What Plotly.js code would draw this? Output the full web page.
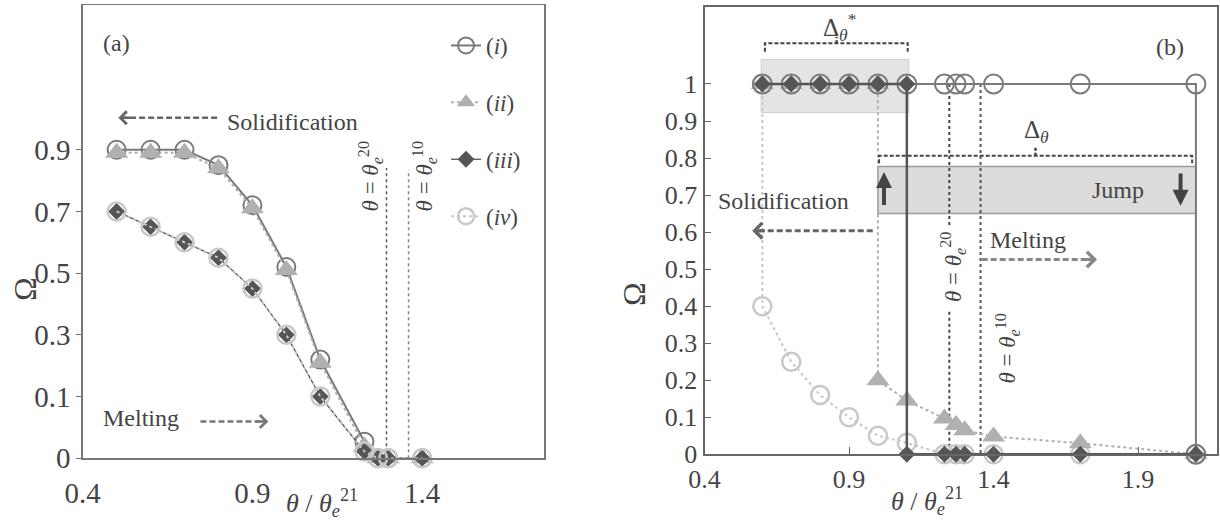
<!DOCTYPE html>
<html><head><meta charset="utf-8">
<script src="https://cdn.plot.ly/plotly-3.0.1.min.js"></script>
<style>html,body{margin:0;padding:0;background:#fff}</style>
</head><body><div id="chart" style="width:1220px;height:523px"></div>
<script>
const FONT = '"Liberation Serif", "Times New Roman", serif';
const TXT = '#444';

// ---------------- Panel (a) data ----------------
const xA = [0.5, 0.6, 0.7, 0.8, 0.9, 1.0, 1.1, 1.23, 1.27, 1.3, 1.4];
const aI   = [0.9, 0.9, 0.9, 0.85, 0.72, 0.52, 0.22, 0.027, 0, 0, 0];
const aII  = [0.89, 0.89, 0.89, 0.84, 0.71, 0.51, 0.21, 0.019, 0, 0, 0];
const aIII = [0.7, 0.65, 0.6, 0.55, 0.45, 0.3, 0.1, 0.011, 0, 0, 0];
const aIV  = [0.7, 0.65, 0.6, 0.55, 0.45, 0.3, 0.1, 0.011, 0, 0, 0];
const aTickVals = [0, 0.1, 0.3, 0.5, 0.7, 0.9];
const aTickText = ['0', '0.1', '0.3', '0.5', '0.7', '0.9'];
const aXTicks = [0.4, 0.9, 1.4];
// the (a) y axis is drawn with evenly spaced labels 0, 0.1, 0.3, ... : map values to that scale
function posA(v) { return v <= 0.1 ? 2 * v : v + 0.1; }

// ---------------- Panel (b) data ----------------
const bIx   = [0.6, 0.7, 0.8, 0.9, 1.0, 1.1, 1.23, 1.27, 1.3, 1.4, 1.7, 2.1, 2.1];
const bIy   = [1, 1, 1, 1, 1, 1, 1, 1, 1, 1, 1, 1, 0];
const bIIx  = [0.6, 0.7, 0.8, 0.9, 1.0, 1.0, 1.1, 1.23, 1.27, 1.3, 1.4, 1.7, 2.1];
const bIIy  = [1, 1, 1, 1, 1, 0.2, 0.145, 0.097, 0.079, 0.065, 0.048, 0.03, 0];
const bIIIx = [0.6, 0.7, 0.8, 0.9, 1.0, 1.1, 1.1, 1.23, 1.27, 1.3, 1.4, 1.7, 2.1];
const bIIIy = [1, 1, 1, 1, 1, 1, 0, 0, 0, 0, 0, 0, 0];
const bIVx  = [0.6, 0.6, 0.7, 0.8, 0.9, 1.0, 1.1, 1.23, 1.27, 1.3, 1.4, 1.7, 2.1];
const bIVy  = [1, 0.4, 0.25, 0.16, 0.1, 0.05, 0.031, 0, 0, 0, 0, 0, 0];
const bXTicks = [0.4, 0.9, 1.4, 1.9];
const bYTicks = [0, 0.1, 0.2, 0.3, 0.4, 0.5, 0.6, 0.7, 0.8, 0.9, 1];
const bYText = ['0', '0.1', '0.2', '0.3', '0.4', '0.5', '0.6', '0.7', '0.8', '0.9', '1'];

const names = ['(<i>i</i>)', '(<i>ii</i>)', '(<i>iii</i>)', '(<i>iv</i>)'];
const ST = {
  i:   {color: '#7a7a7a', symbol: 'circle-open', size: 18, mlw: 2,   dash: 'solid', lw: 2},
  ii:  {color: '#b0b0b0', symbol: 'triangle-up', size: 20, mlw: 0,   dash: 'dot',   lw: 2},
  iii: {color: '#555555', symbol: 'diamond',     size: 13, mlw: 0,   dash: 'solid', lw: 1.3},
  iv:  {color: '#c8c8c8', symbol: 'circle-open', size: 18, mlw: 2.5, dash: 'dot',   lw: 2}
};
function tr(x, y, s, xa, ya, name, rank, show) {
  return {
    type: 'scatter', mode: 'lines+markers', x: x, y: y, xaxis: xa, yaxis: ya,
    name: name, legendrank: rank, showlegend: show, legendgroup: 'g' + rank,
    cliponaxis: false, hoverinfo: 'skip',
    line: {color: s.color, dash: s.dash, width: s.lw},
    marker: {symbol: s.symbol, size: s.size, color: s.color, line: {color: s.color, width: s.mlw}}
  };
}
const traces = [
  tr(xA, aI.map(posA), ST.i, 'x', 'y', names[0], 1, true),
  tr(xA, aII.map(posA), ST.ii, 'x', 'y', names[1], 2, true),
  tr(xA, aIII.map(posA), ST.iii, 'x', 'y', names[2], 3, true),
  tr(xA, aIV.map(posA), ST.iv, 'x', 'y', names[3], 4, true),
  tr(bIVx, bIVy, ST.iv, 'x2', 'y2', names[3], 4, false),
  tr(bIIx, bIIy, ST.ii, 'x2', 'y2', names[1], 2, false),
  tr(bIx, bIy, Object.assign({}, ST.i, {size: 19}), 'x2', 'y2', names[0], 1, false),
  tr(bIIIx, bIIIy, Object.assign({}, ST.iii, {lw: 2.5}), 'x2', 'y2', names[2], 3, false)
];

const axBase = {
  showline: true, mirror: true, showgrid: false, zeroline: false, fixedrange: true
};

function ann(o) {
  return Object.assign({showarrow: false, xanchor: 'center', yanchor: 'middle',
                        font: {family: FONT, size: 24, color: TXT}}, o);
}
function head(x, y, xr, yr, ax, ay, col, w) {
  return {x: x, y: y, xref: xr, yref: yr, text: '', showarrow: true, ax: ax, ay: ay,
          arrowhead: 4, arrowsize: 1, arrowwidth: w, arrowcolor: col, standoff: 0};
}
const thetaLbl = n => '<i>θ</i> = <i>θ</i><sub><i>e</i></sub><sup>' + n + '</sup>';
const F22 = {family: FONT, size: 23, color: TXT};

const annotations = [
  // ----- panel (a)
  ann({text: '(a)', x: 0.501, y: 1.346, xref: 'x', yref: 'y'}),
  ann({text: 'Solidification', x: 1.017, y: 1.09, xref: 'x', yref: 'y'}),
  ann({text: 'Melting', x: 0.572, y: 0.131, xref: 'x', yref: 'y'}),
  ann({text: thetaLbl(20), x: 1.248, y: 0.912, xref: 'x', yref: 'y', textangle: -90, font: F22}),
  ann({text: thetaLbl(10), x: 1.407, y: 0.912, xref: 'x', yref: 'y', textangle: -90, font: F22}),
  head(0.505, 1.104, 'x', 'y', 14, 0, '#666', 2.5),
  head(0.947, 0.119, 'x', 'y', -14, 0, '#777', 2.5),
  ann({text: 'Ω', x: 25 / 1220, y: 1 - 289 / 523, xref: 'paper', yref: 'paper', textangle: -90, font: {family: FONT, size: 32, color: TXT}}),
  ann({text: '<i>θ</i> / <i>θ</i><sub><i>e</i></sub><sup>21</sup>', x: 322 / 1220, y: 1 - 503 / 523, xref: 'paper', yref: 'paper', font: {family: FONT, size: 26, color: TXT}}),
  // ----- panel (b)
  ann({text: '(b)', x: 2.01, y: 1.10, xref: 'x2', yref: 'y2'}),
  ann({text: 'Δ<sub><i>θ</i></sub><sup>*</sup>', x: 0.866, y: 1.155, xref: 'x2', yref: 'y2', font: {family: FONT, size: 25, color: TXT}}),
  ann({text: 'Δ<sub><i>θ</i></sub>', x: 1.547, y: 0.872, xref: 'x2', yref: 'y2', font: {family: FONT, size: 25, color: TXT}}),
  ann({text: 'Jump', x: 1.83, y: 0.714, xref: 'x2', yref: 'y2'}),
  ann({text: 'Solidification', x: 0.674, y: 0.683, xref: 'x2', yref: 'y2'}),
  ann({text: 'Melting', x: 1.518, y: 0.578, xref: 'x2', yref: 'y2'}),
  ann({text: thetaLbl(20), x: 1.26, y: 0.506, xref: 'x2', yref: 'y2', textangle: -90, font: F22}),
  ann({text: thetaLbl(10), x: 1.447, y: 0.286, xref: 'x2', yref: 'y2', textangle: -90, font: F22}),
  head(0.565, 0.604, 'x2', 'y2', 14, 0, '#666', 3),
  head(1.758, 0.526, 'x2', 'y2', -14, 0, '#888', 3),
  {x: 1.021, y: 0.762, xref: 'x2', yref: 'y2', text: '', showarrow: true, axref: 'x2', ayref: 'y2', ax: 1.021, ay: 0.669,
   arrowhead: 2, arrowsize: 0.8, arrowwidth: 4, arrowcolor: '#444', standoff: 0},
  {x: 2.047, y: 0.671, xref: 'x2', yref: 'y2', text: '', showarrow: true, axref: 'x2', ayref: 'y2', ax: 2.047, ay: 0.762,
   arrowhead: 2, arrowsize: 0.8, arrowwidth: 4, arrowcolor: '#444', standoff: 0},
  ann({text: 'Ω', x: 634 / 1220, y: 1 - 294 / 523, xref: 'paper', yref: 'paper', textangle: -90, font: {family: FONT, size: 32, color: TXT}}),
  ann({text: '<i>θ</i> / <i>θ</i><sub><i>e</i></sub><sup>21</sup>', x: 927 / 1220, y: 1 - 501 / 523, xref: 'paper', yref: 'paper', font: {family: FONT, size: 26, color: TXT}})
];

const DASH = '6px,3px';
const shapes = [
  // ----- panel (a)
  {type: 'line', xref: 'x', yref: 'y', x0: 0.796, x1: 0.515, y0: 1.104, y1: 1.104, line: {color: '#666', width: 2.5, dash: DASH}},
  {type: 'line', xref: 'x', yref: 'y', x0: 0.747, x1: 0.935, y0: 0.119, y1: 0.119, line: {color: '#777', width: 2.5, dash: DASH}},
  {type: 'line', xref: 'x', yref: 'y', x0: 1.295, x1: 1.295, y0: 0, y1: 0.941, layer: 'below', line: {color: '#555', width: 1.5, dash: 'dot'}},
  {type: 'line', xref: 'x', yref: 'y', x0: 1.36, x1: 1.36, y0: 0, y1: 0.935, layer: 'below', line: {color: '#888', width: 1.5, dash: 'dot'}},
  // ----- panel (b)
  {type: 'rect', xref: 'x2', yref: 'y2', x0: 0.596, x1: 1.107, y0: 0.923, y1: 1.066, layer: 'below', fillcolor: '#e4e4e4', line: {color: '#d0d0d0', width: 1}},
  {type: 'rect', xref: 'x2', yref: 'y2', x0: 1.0, x1: 2.1, y0: 0.65, y1: 0.777, layer: 'below', fillcolor: '#dcdcdc', line: {color: '#9a9a9a', width: 1.5}},
  {type: 'path', xref: 'x2', yref: 'y2', path: 'M0.609,1.087 L0.609,1.11 L1.103,1.11 L1.103,1.087', line: {color: '#444', width: 2, dash: '4px,2px'}},
  {type: 'line', xref: 'x2', yref: 'y2', x0: 0.857, x1: 0.857, y0: 1.11, y1: 1.127, line: {color: '#444', width: 2.5, dash: '3px,2px'}},
  {type: 'path', xref: 'x2', yref: 'y2', path: 'M1.004,0.786 L1.004,0.806 L2.087,0.806 L2.087,0.786', line: {color: '#444', width: 2, dash: '4px,2px'}},
  {type: 'line', xref: 'x2', yref: 'y2', x0: 1.545, x1: 1.545, y0: 0.806, y1: 0.828, line: {color: '#444', width: 2.5, dash: '3px,2px'}},
  {type: 'line', xref: 'x2', yref: 'y2', x0: 1.247, x1: 1.247, y0: 1, y1: 0.615, layer: 'below', line: {color: '#444', width: 2, dash: 'dot'}},
  {type: 'line', xref: 'x2', yref: 'y2', x0: 1.247, x1: 1.247, y0: 0.385, y1: 0, layer: 'below', line: {color: '#444', width: 2, dash: 'dot'}},
  {type: 'line', xref: 'x2', yref: 'y2', x0: 1.355, x1: 1.355, y0: 1, y1: 0, layer: 'below', line: {color: '#555', width: 2, dash: 'dot'}},
  {type: 'line', xref: 'x2', yref: 'y2', x0: 0.982, x1: 0.58, y0: 0.604, y1: 0.604, line: {color: '#666', width: 3, dash: DASH}},
  {type: 'line', xref: 'x2', yref: 'y2', x0: 1.359, x1: 1.745, y0: 0.526, y1: 0.526, line: {color: '#888', width: 3, dash: DASH}}
];

const layout = {
  width: 1220, height: 523,
  margin: {l: 0, r: 0, t: 0, b: 0},
  paper_bgcolor: '#fff', plot_bgcolor: '#fff',
  font: {family: FONT, color: TXT},
  xaxis: Object.assign({}, axBase, {
    domain: [82.7 / 1220, 544 / 1220], range: [0.4, 1.759], anchor: 'y',
    tickvals: aXTicks, ticktext: aXTicks.map(v => v.toFixed(1)), ticks: '',
    ticklabelstandoff: 8, linecolor: '#777', linewidth: 1.5,
    tickfont: {family: FONT, size: 29, color: TXT}
  }),
  yaxis: Object.assign({}, axBase, {
    domain: [(523 - 458.3) / 523, (523 - 5) / 523], range: [0, 1.469], anchor: 'x',
    tickvals: aTickVals.map(posA), ticktext: aTickText, ticks: 'outside', ticklen: 5,
    tickcolor: '#777', linecolor: '#777', linewidth: 1.5,
    tickfont: {family: FONT, size: 29, color: TXT}
  }),
  xaxis2: Object.assign({}, axBase, {
    domain: [704.5 / 1220, 1217 / 1220], range: [0.4, 2.173], anchor: 'y2',
    tickvals: bXTicks, ticktext: bXTicks.map(v => v.toFixed(1)), ticks: 'inside', ticklen: 7,
    tickcolor: '#666', linecolor: '#666', linewidth: 2,
    tickfont: {family: FONT, size: 26, color: TXT}
  }),
  yaxis2: Object.assign({}, axBase, {
    domain: [(523 - 454.3) / 523, (523 - 6.7) / 523], range: [0, 1.2087], anchor: 'x2',
    tickvals: bYTicks, ticktext: bYText, ticks: 'inside', ticklen: 6,
    tickcolor: '#666', linecolor: '#666', linewidth: 2,
    tickfont: {family: FONT, size: 26, color: TXT}
  }),
  showlegend: true,
  legend: {
    x: 446 / 1220, y: 1 - 24 / 523, xanchor: 'left', yanchor: 'top',
    bgcolor: 'rgba(0,0,0,0)', borderwidth: 0, tracegroupgap: 24,
    font: {family: FONT, size: 23, color: TXT}, itemsizing: 'trace', itemwidth: 30
  },
  annotations: annotations,
  shapes: shapes
};

Plotly.newPlot('chart', traces, layout, {displayModeBar: false, staticPlot: true});
</script>
</body></html>
